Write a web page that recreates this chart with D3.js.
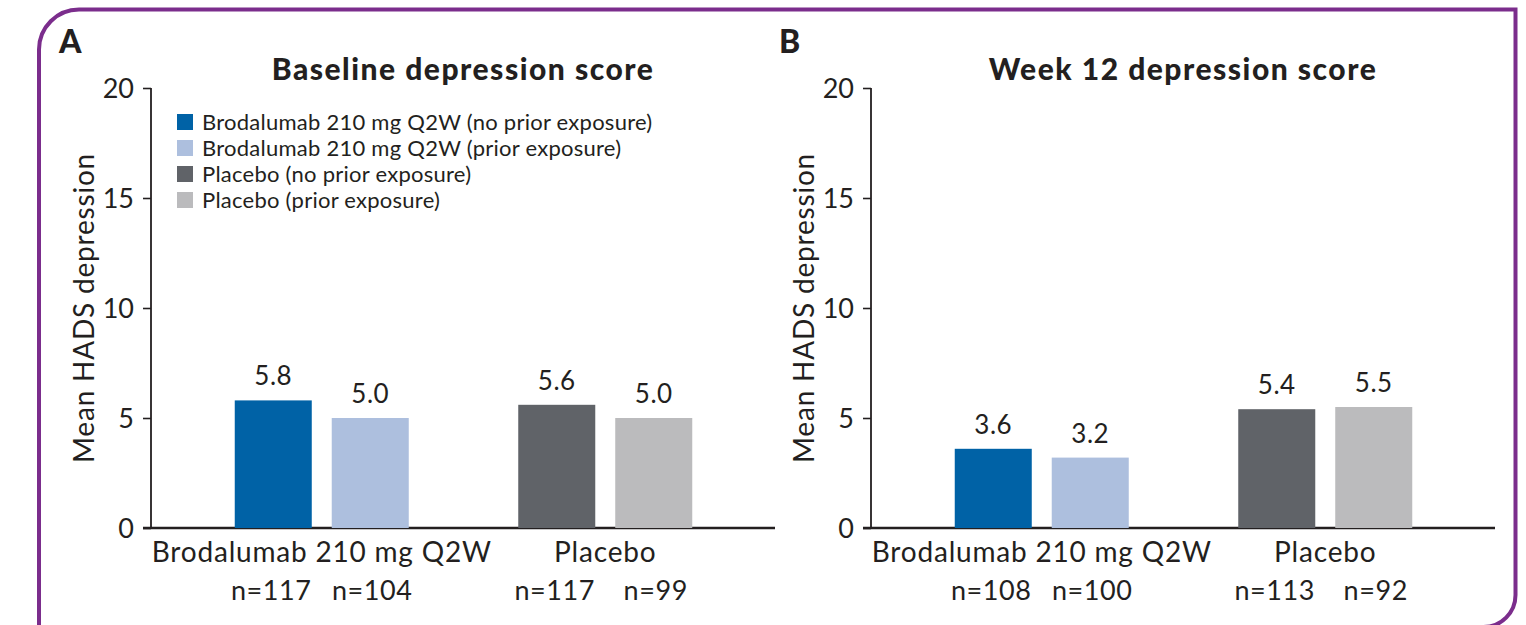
<!DOCTYPE html>
<html>
<head>
<meta charset="utf-8">
<script src="https://cdn.jsdelivr.net/npm/d3@7"></script>
<style>
  html, body { margin: 0; padding: 0; background: #ffffff; }
  svg { display: block; }
  text { font-family: Lato, "Open Sans", sans-serif; fill: #231f20; }
</style>
</head>
<body>
<svg id="chart" width="1526" height="625"></svg>
<script>
// ---- data ----
const panelLetters = ["A", "B"];
const panelTitles = ["Baseline depression score", "Week 12 depression score"];
const groups = ["Brodalumab 210 mg Q2W", "Placebo"];
const seriesNames = [
  "Brodalumab 210 mg Q2W (no prior exposure)",
  "Brodalumab 210 mg Q2W (prior exposure)",
  "Placebo (no prior exposure)",
  "Placebo (prior exposure)"
];
const seriesGroup = [0, 0, 1, 1];
const seriesSlot = [0, 1, 0, 1];
const seriesColors = ["#0062a6", "#adbfde", "#606368", "#bbbbbd"];
const baselineValues = [5.8, 5.0, 5.6, 5.0];
const week12Values = [3.6, 3.2, 5.4, 5.5];
const baselineN = [117, 104, 117, 99];
const week12N = [108, 100, 113, 92];
const yTicks = [0, 5, 10, 15, 20];
const yTitle = "Mean HADS depression";

const panelValues = [baselineValues, week12Values];
const panelN = [baselineN, week12N];

// ---- drawing ----
const svg = d3.select("#chart");
const ink = "#231f20";

// purple frame
const frame = d3.path();
const L = 39, T = 9.5, R = 1515.5, B = 627, rTL = 40, rBR = 32;
frame.moveTo(L, 700);
frame.lineTo(L, T + rTL);
frame.arcTo(L, T, L + rTL, T, rTL);
frame.lineTo(R, T);
frame.lineTo(R, B - rBR);
frame.arcTo(R, B, R - rBR, B, rBR);
frame.lineTo(-50, B);
svg.append("path").attr("d", frame.toString())
  .attr("fill", "none").attr("stroke", "#7b2d8c").attr("stroke-width", 4);

const y = d3.scaleLinear().domain([0, 20]).range([528, 88]);

panelLetters.forEach((letter, p) => {
  const dx = p * 720;
  const g = svg.append("g").attr("transform", `translate(${dx},0)`);
  const axisX = 151;

  const x0 = d3.scaleBand().domain(d3.range(groups.length)).range([180, 747]);
  const x1 = d3.scaleBand().domain([0, 1]).range([0, 174]).paddingInner(0.206);
  const groupLeft = gi => x0(gi) + x0.bandwidth() / 2 - 87;

  // panel letter
  g.append("text").attr("x", 59).attr("y", 53)
    .attr("font-size", 32).attr("font-weight", 900).text(letter);

  // title
  g.append("text").attr("x", 463).attr("y", 80).attr("text-anchor", "middle")
    .attr("font-size", 30).attr("font-weight", 900).attr("letter-spacing", 1.5)
    .text(panelTitles[p]);

  // y axis
  const yAxis = d3.axisLeft(y).tickValues(yTicks).tickSize(8).tickPadding(9)
    .tickFormat(d3.format("d"));
  const ya = g.append("g").attr("transform", `translate(${axisX},0)`).call(yAxis);
  ya.select(".domain").remove();
  ya.selectAll(".tick line").attr("stroke", ink).attr("stroke-width", 1.6);
  ya.selectAll(".tick text").attr("font-size", 27)
    .attr("font-family", "Lato, sans-serif").attr("fill", ink).attr("dy", "0.36em");
  g.append("line").attr("x1", axisX).attr("x2", axisX)
    .attr("y1", y(20)).attr("y2", y(0)).attr("stroke", ink).attr("stroke-width", 1.8);
  g.append("line").attr("x1", axisX - 8).attr("x2", 775)
    .attr("y1", y(0)).attr("y2", y(0)).attr("stroke", ink).attr("stroke-width", 2.4);

  // y title
  g.append("text")
    .attr("transform", `translate(94,${(y(0) + y(20)) / 2}) rotate(-90)`)
    .attr("text-anchor", "middle").attr("font-size", 28).attr("letter-spacing", 0.8)
    .text(yTitle);

  // bars
  const vals = panelValues[p];
  seriesNames.forEach((s, i) => {
    const bx = groupLeft(seriesGroup[i]) + x1(seriesSlot[i]);
    g.append("rect")
      .attr("x", bx).attr("y", y(vals[i]))
      .attr("width", x1.bandwidth()).attr("height", y(0) - y(vals[i]))
      .attr("fill", seriesColors[i]);
    g.append("text")
      .attr("x", bx + x1.bandwidth() / 2).attr("y", y(vals[i]) - 15)
      .attr("text-anchor", "middle").attr("font-size", 26).attr("letter-spacing", 0.5)
      .text(d3.format(".1f")(vals[i]));
    g.append("text")
      .attr("x", bx + x1.bandwidth() / 2 + (seriesSlot[i] === 0 ? -2 : 2)).attr("y", 600)
      .attr("text-anchor", "middle").attr("font-size", 27).attr("letter-spacing", 0.6)
      .text("n=" + panelN[p][i]);
  });

  // group labels
  groups.forEach((gname, gi) => {
    g.append("text")
      .attr("x", x0(gi) + x0.bandwidth() / 2).attr("y", 562)
      .attr("text-anchor", "middle").attr("font-size", 28).attr("letter-spacing", 0.8)
      .text(gname);
  });

  // legend (panel A only)
  if (p === 0) {
    const lg = g.append("g");
    seriesNames.forEach((s, i) => {
      const cy = 122 + i * 26;
      lg.append("rect").attr("x", 177).attr("y", cy - 8)
        .attr("width", 16).attr("height", 16).attr("fill", seriesColors[i]);
      lg.append("text").attr("x", 202).attr("y", cy).attr("dy", "0.35em")
        .attr("font-size", 22).attr("letter-spacing", 0.25).text(s);
    });
  }
});
</script>
</body>
</html>
